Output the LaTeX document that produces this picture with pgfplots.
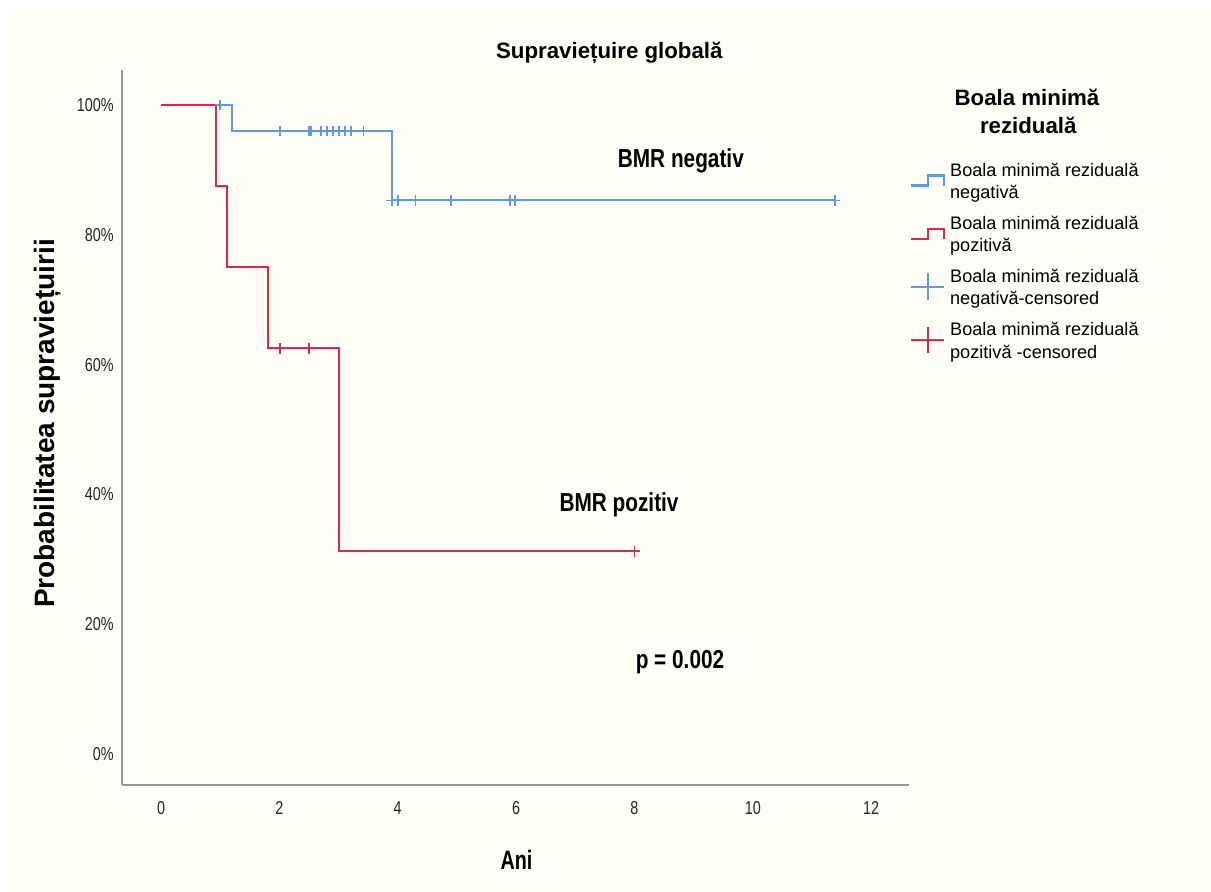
\documentclass[border=0pt]{standalone}
\usepackage{fontspec}
\setmainfont{Liberation Sans}
\newfontfamily\narrowfont[FakeStretch=0.77]{Liberation Sans}
\newfontfamily\anifont[FakeStretch=0.74]{Liberation Sans}
\newfontfamily\annfont[FakeStretch=0.8]{Liberation Sans}
\usepackage{pgfplots}
\pgfplotsset{compat=1.18}
\definecolor{bg}{RGB}{254,253,246}
\definecolor{kmblue}{RGB}{100,152,222}
\definecolor{kmred}{RGB}{222,38,78}
\definecolor{axgray}{RGB}{150,150,150}
\pgfplotsset{
  stepimg/.style={legend image code/.code={%
    \draw[##1, line width=1.6pt] (0pt,-3.75pt) -- (12.5pt,-3.75pt) -- (12.5pt,3.75pt) -- (25pt,3.75pt) -- (25pt,-3.75pt);}},
  crossimg/.style={legend image code/.code={%
    \draw[##1, line width=1.5pt] (0pt,0pt) -- (25pt,0pt);
    \draw[##1, line width=1.5pt] (12.5pt,-10pt) -- (12.5pt,10pt);}},
}
\begin{document}
\begin{tikzpicture}
\useasboundingbox (0,0) rectangle (908.25pt,669pt);
\fill[bg] (6pt,0) rectangle (908.25pt,659.25pt);
\begin{axis}[
  at={(91.5pt,80.25pt)}, anchor=south west,
  scale only axis, width=590.25pt, height=536.25pt,
  xmin=-0.659, xmax=12.64, ymin=-4.78, ymax=105.4,
  axis lines=left, axis line style={-, axgray, line width=1.2pt},
  major tick length=0pt,
  xtick={0,2,...,12}, xticklabels={0,2,4,6,8,10,12},
  ytick={0,20,...,100}, yticklabels={0\%,20\%,40\%,60\%,80\%,100\%},
  tick label style={font=\narrowfont\fontsize{14}{16}\selectfont, text=black!85},
  xticklabel style={anchor=north, inner sep=0pt, yshift=-12pt},
  yticklabel style={anchor=east, inner sep=0pt, xshift=-6pt},
  clip=false,
  legend cell align=left,
  legend style={at={(1.0013,0.8773)}, anchor=north west, draw=none, fill=none,
    inner sep=0pt, outer sep=0pt, row sep=5.6pt,
    font=\fontsize{13.6}{16.9}\selectfont,
    cells={anchor=west, align=left, inner sep=0pt},
    /tikz/every odd column/.append style={column sep=1.5pt}},
]
\addplot[color=kmblue, line width=1.4pt, const plot, stepimg]
  coordinates {(0,100) (1.205,96.0) (3.9,85.3) (11.4,85.3)};
\addlegendentry{\strut Boala minimă reziduală\\negativă\strut}
\addplot[color=kmred, line width=1.4pt, const plot, stepimg]
  coordinates {(0,100) (0.924,87.5) (1.11,75) (1.81,62.5) (3.01,31.25) (8.0,31.25)};
\addlegendentry{\strut Boala minimă reziduală\\pozitivă\strut}
\addplot[color=kmblue, only marks, mark=+, mark size=4pt, mark options={line width=1.3pt}, crossimg]
  coordinates {(1.0,100) (2.01,96.0) (2.50,96.0) (2.53,96.0) (2.70,96.0) (2.81,96.0) (2.91,96.0) (3.01,96.0) (3.11,96.0) (3.21,96.0) (3.42,96.0)
  (3.90,85.3) (4.00,85.3) (4.30,85.3) (4.90,85.3) (5.90,85.3) (5.98,85.3) (11.39,85.3)};
\addlegendentry{\strut Boala minimă reziduală\\negativă-censored\strut}
\addplot[color=kmred, only marks, mark=+, mark size=4pt, mark options={line width=1.3pt}, crossimg]
  coordinates {(2.01,62.5) (2.50,62.5) (8.0,31.25)};
\addlegendentry{\strut Boala minimă reziduală\\pozitivă -censored\strut}
\node[anchor=base, font=\annfont\bfseries\fontsize{19.5}{22}\selectfont] at (axis cs:8.785,90.4) {BMR negativ};
\node[anchor=base, font=\annfont\bfseries\fontsize{19.5}{22}\selectfont] at (axis cs:7.74,37.3) {BMR pozitiv};
\node[anchor=base, font=\annfont\bfseries\fontsize{19.5}{22}\selectfont] at (axis cs:8.77,13.1) {p = 0.002};
\end{axis}
\node[anchor=base, font=\bfseries\fontsize{16.7}{20}\selectfont] at (457pt,624.75pt) {Supraviețuire globală};
\node[rotate=90, font=\bfseries\fontsize{21}{24}\selectfont] at (35.8pt,351.4pt) {Probabilitatea supraviețuirii};
\node[anchor=base, font=\anifont\bfseries\fontsize{20}{24}\selectfont] at (387.4pt,17pt) {Ani};
\node[anchor=base, font=\bfseries\fontsize{16.7}{20}\selectfont] at (770.25pt,589.5pt) {Boala minimă};
\node[anchor=base, font=\bfseries\fontsize{16.7}{20}\selectfont] at (771.2pt,569pt) {reziduală};
\end{tikzpicture}
\end{document}
